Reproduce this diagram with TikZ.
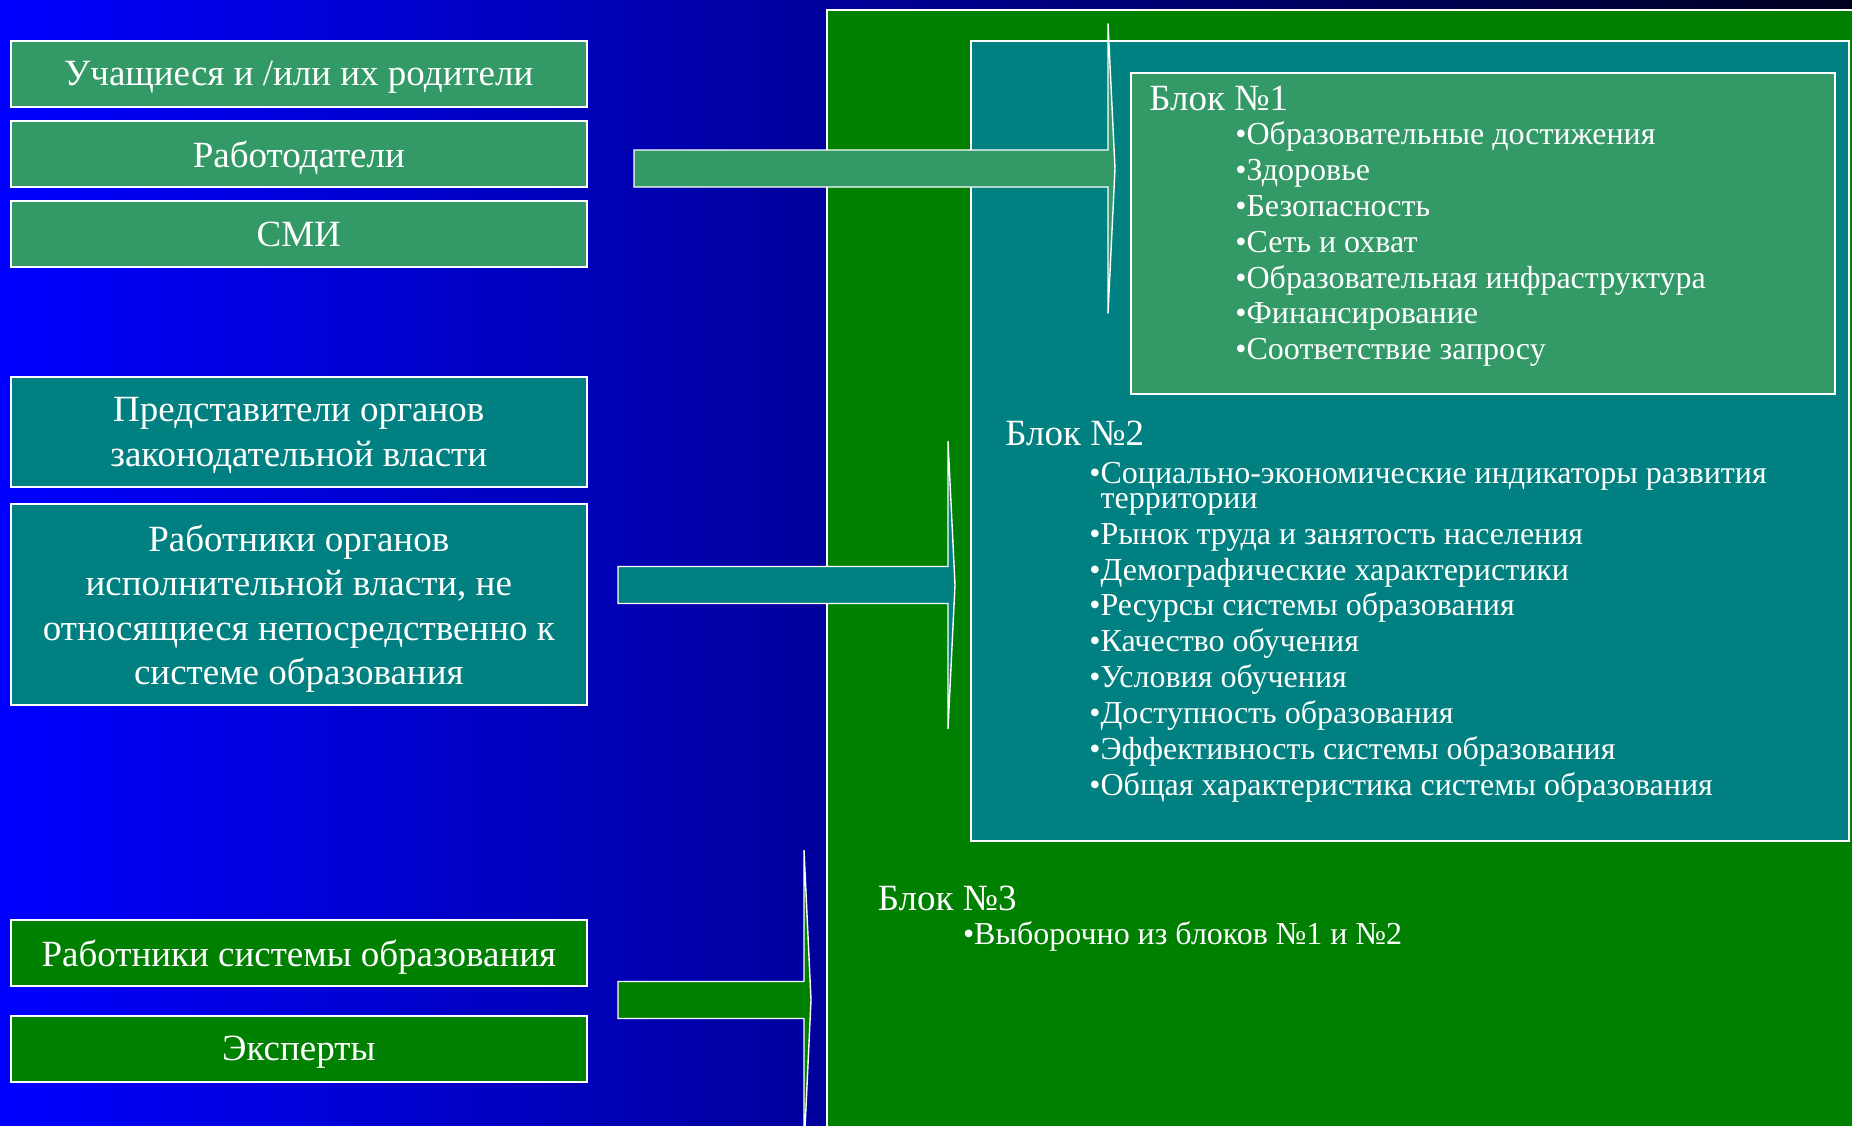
\documentclass[tikz,border=0pt]{standalone}
\usepackage{fontspec}
\setmainfont{Liberation Serif}
\usetikzlibrary{positioning,calc}

\definecolor{seagreen}{RGB}{51,153,102}
\definecolor{slideteal}{RGB}{0,128,128}
\definecolor{slidegreen}{RGB}{0,128,0}
\definecolor{slideblue}{RGB}{0,0,255}
\definecolor{slidenavy}{RGB}{0,0,30}

% block arrow: tail, tip, half height of head, fill
\newcommand{\fatarrow}[4]{%
  \draw[arrow line,fill=#4] ($(#1)+(0,-18.5)$) -- ($(#2)+(-7,-18.5)$) -- ($(#2)+(-7,-#3)$) -- (#2)
    -- ($(#2)+(-7,#3)$) -- ($(#2)+(-7,18.5)$) -- ($(#1)+(0,18.5)$) -- cycle;}

\begin{document}
\begin{tikzpicture}[x=0.5pt,y=-0.5pt,
  src node/.style={draw=white,line width=1pt,text=white,minimum width=288.2pt,minimum height=33pt,inner sep=0pt,outer sep=0pt,align=center,text depth=0pt,font=\fontsize{18.5}{22.25}\selectfont},
  frame/.style={draw=white,line width=1pt},
  arrow line/.style={draw=white,line width=0.7pt,line join=miter},
  head node/.style={anchor=base west,inner sep=0pt,text=white,font=\fontsize{18.5}{22.25}\selectfont},
  list node/.style={anchor=north west,inner sep=0pt,text=white,align=left,font=\fontsize{16}{17.9}\selectfont}]
    \useasboundingbox (0,0) rectangle (1852,1125);
    \clip (0,0) rectangle (1852,1125);
    \shade[left color=slideblue,right color=slidenavy] (0,0) rectangle (1852,1125);

    % blocks
    \draw[frame,fill=slidegreen] (827,9.5) rectangle (1880,1150);
    \draw[frame,fill=slideteal] (971,41) rectangle (1849,841);
    \draw[frame,fill=seagreen] (1131,73) rectangle (1835,394);

    % sources
    \node[src node,fill=seagreen] (pupils) at (298.8,73.8) {Учащиеся и /или их родители};
    \node[src node,fill=seagreen] (employers) [below=7pt of pupils] {Работодатели};
    \node[src node,fill=seagreen] (media) [below=7pt of employers] {СМИ};
    \node[src node,fill=slideteal,minimum height=54.9pt] (legis) at (298.8,431.7) {Представители органов\\законодательной власти};
    \node[src node,fill=slideteal,minimum height=100.4pt] (exec) [below=8.8pt of legis] {Работники органов\\исполнительной власти, не\\относящиеся непосредственно к\\системе образования};
    \node[src node,fill=slidegreen] (staff) at (298.8,953) {Работники системы образования};
    \node[src node,fill=slidegreen] (experts) [below=14.8pt of staff] {Эксперты};

    % arrows
    \coordinate (a1 tail) at (634,168.5);
    \coordinate (a1 tip) at (1115,168.5);
    \coordinate (a2 tail) at (618,585);
    \coordinate (a2 tip) at (955,585);
    \coordinate (a3 tail) at (618,1000);
    \coordinate (a3 tip) at (811,1000);
    \fatarrow{a1 tail}{a1 tip}{145}{seagreen}
    \fatarrow{a2 tail}{a2 tip}{144}{slideteal}
    \fatarrow{a3 tail}{a3 tip}{150}{slidegreen}

    % block texts
    \node[head node] (h1) at (1149,110) {Блок №1};
    \node[list node] (l1) at (1235,121.5) {•Образовательные достижения\\•Здоровье\\•Безопасность\\•Сеть и охват\\•Образовательная инфраструктура\\•Финансирование\\•Соответствие запросу};
    \node[head node] (h2) at (1005,445) {Блок №2};
    \node[list node] (l2) at (1089,462) {•Социально-экономические индикаторы развития\\[-5.4pt]\hphantom{•}территории\\•Рынок труда и занятость населения\\•Демографические характеристики\\•Ресурсы системы образования\\•Качество обучения\\•Условия обучения\\•Доступность образования\\•Эффективность системы образования\\•Общая характеристика системы образования};
    \node[head node] (h3) at (877.5,910) {Блок №3};
    \node[head node,font=\fontsize{16}{17.9}\selectfont] (l3) at (962.6,944) {•Выборочно из блоков №1 и №2};
\end{tikzpicture}
\end{document}
